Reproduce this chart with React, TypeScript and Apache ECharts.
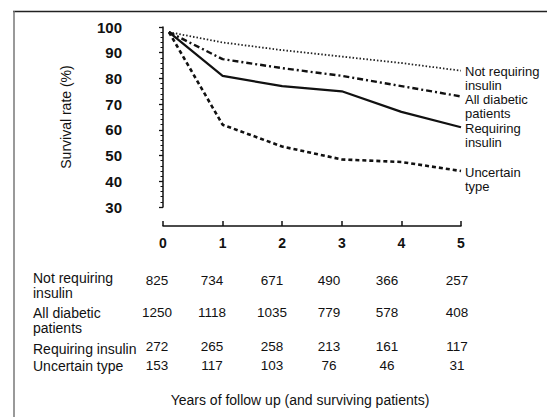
import React, { useEffect, useRef } from "react";
import * as echarts from "echarts";

// Years of follow up
const years = [0.1, 1, 2, 3, 4, 5];
// Survival rates (%)
const notRequiring = [98, 94, 91, 88.5, 86, 83];
const allDiabetic = [98, 87.5, 84, 81, 77, 73];
const requiringInsulin = [98, 81, 77, 75, 67, 61];
const uncertainType = [98, 62, 53.5, 48.5, 47.5, 44];

const seriesNames = ["Not requiring\ninsulin", "All diabetic\npatients", "Requiring\ninsulin", "Uncertain\ntype"];

// Surviving patients table
const tableLabels = ["Not requiring\ninsulin", "All diabetic\npatients", "Requiring insulin", "Uncertain type"];
const tableNotRequiring = [825, 734, 671, 490, 366, 257];
const tableAll = [1250, 1118, 1035, 779, 578, 408];
const tableRequiring = [272, 265, 258, 213, 161, 117];
const tableUncertain = [153, 117, 103, 76, 46, 31];

const yTitle = "Survival rate (%)";
const xTitle = "Years of follow up (and surviving patients)";

// layout constants
const FONT = "'Liberation Sans', Arial, Helvetica, sans-serif";
const colX = [157, 212, 272, 329, 387, 457];
const rowNumY = [280, 312, 346, 365];
const rowLabelY = [285.5, 320.5, 349, 366];

export default function App() {
  const ref = useRef<HTMLDivElement>(null);
  useEffect(() => {
    if (!ref.current) return;
    const chart = echarts.init(ref.current, null, { renderer: "svg" });
    const mk = (vals: number[]) => years.map((x, i) => [x, vals[i]]);
    const styles = [
      { type: [1.5, 2], width: 1.8, color: "#222" },
      { type: [6, 3, 2, 3], width: 2.4, color: "#111" },
      { type: "solid", width: 2.2, color: "#111" },
      { type: [4, 3], width: 2.6, color: "#111" },
    ];
    const offsets = [[0, 8], [0, 10.5], [0, 8], [0, 8]];
    const datasets = [notRequiring, allDiabetic, requiringInsulin, uncertainType];
    const series = datasets.map((d, i) => ({
      type: "line",
      name: seriesNames[i],
      data: mk(d),
      showSymbol: false,
      symbol: "none",
      lineStyle: styles[i],
      endLabel: {
        show: true,
        formatter: seriesNames[i],
        fontSize: 13,
        fontFamily: FONT,
        lineHeight: 14,
        color: "#111",
        distance: 4,
        offset: offsets[i],
        align: "left",
      },
    }));

    const tableRows = [tableNotRequiring, tableAll, tableRequiring, tableUncertain];
    const graphics: any[] = [
      { type: "line", shape: { x1: 13, y1: 11.5, x2: 547, y2: 11.5 }, style: { stroke: "#222", lineWidth: 1.5 } },
      { type: "line", shape: { x1: 14, y1: 11, x2: 14, y2: 417 }, style: { stroke: "#777", lineWidth: 1.5 } },
      {
        type: "text", x: 66, y: 117, rotation: Math.PI / 2,
        style: { text: yTitle, fontSize: 14, fontFamily: FONT, fill: "#111", align: "center", verticalAlign: "middle" },
      },
      {
        type: "text", x: 300, y: 400,
        style: { text: xTitle, fontSize: 14, fontFamily: FONT, fill: "#111", align: "center", verticalAlign: "middle" },
      },
    ];
    tableLabels.forEach((lab, r) => {
      graphics.push({
        type: "text", x: 33, y: rowLabelY[r],
        style: { text: lab, fontSize: 14, fontFamily: FONT, fill: "#111", align: "left", verticalAlign: "middle", lineHeight: 15 },
      });
      tableRows[r].forEach((v, c) => {
        graphics.push({
          type: "text", x: colX[c], y: rowNumY[r],
          style: { text: String(v), fontSize: 13.5, fontFamily: FONT, fill: "#111", align: "center", verticalAlign: "middle" },
        });
      });
    });

    chart.setOption({
      animation: false,
      backgroundColor: "#fff",
      grid: { left: 163, right: 86, top: 27, bottom: 210 },
      xAxis: {
        type: "value", min: 0, max: 5, interval: 1, offset: 19,
        axisLine: { show: true, lineStyle: { color: "#111", width: 1.5 } },
        axisTick: { show: true, inside: true, length: 5, lineStyle: { color: "#111", width: 1.5 } },
        axisLabel: { fontSize: 14, fontWeight: "bold", fontFamily: FONT, color: "#111", margin: 10 },
        splitLine: { show: false },
      },
      yAxis: {
        type: "value", min: 30, max: 100, interval: 10, offset: 38,
        axisLine: { show: true, lineStyle: { color: "#111", width: 1.5 } },
        axisTick: { show: true, length: 4, lineStyle: { color: "#111", width: 1.3 } },
        minorTick: { show: true, splitNumber: 5, length: 2.5, lineStyle: { color: "#111", width: 1 } },
        axisLabel: { fontSize: 15, fontWeight: "bold", fontFamily: FONT, color: "#111", margin: 3 },
        splitLine: { show: false },
        minorSplitLine: { show: false },
      },
      series,
      graphic: graphics,
    });
    return () => chart.dispose();
  }, []);
  return <div ref={ref} style={{ position: "fixed", left: 0, top: 0, width: 547, height: 417 }} />;
}
